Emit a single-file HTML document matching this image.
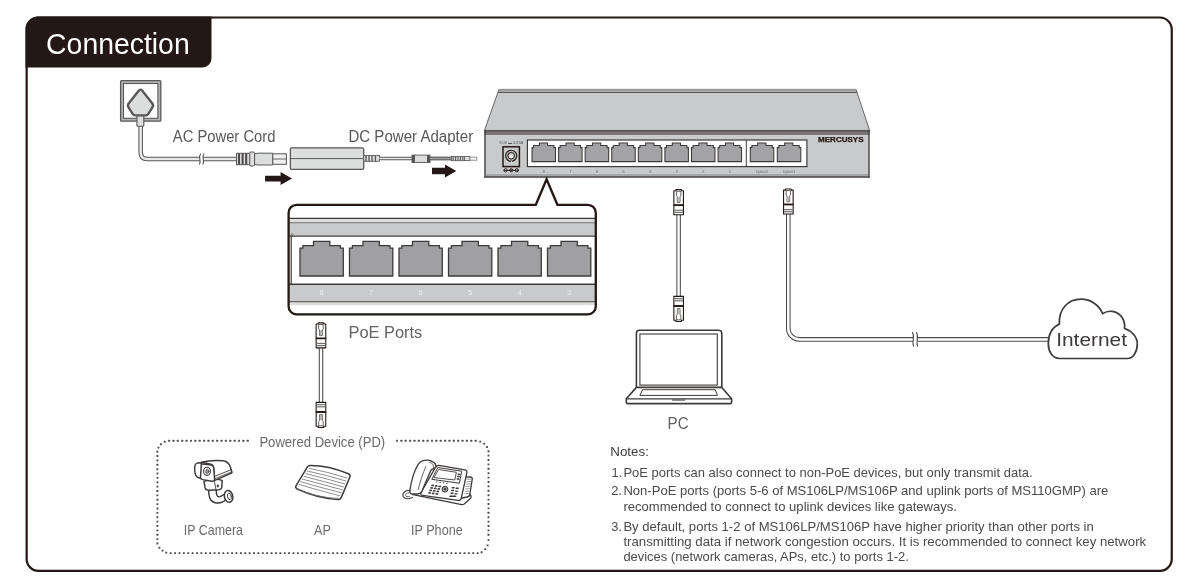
<!DOCTYPE html>
<html><head><meta charset="utf-8">
<style>
html,body{margin:0;padding:0;background:#fff;}
body{width:1200px;height:586px;overflow:hidden;position:relative;}
svg{position:absolute;left:0;top:0;will-change:transform;}
text{font-family:"Liberation Sans",sans-serif;}
</style></head>
<body>
<svg width="1200" height="586" viewBox="0 0 1200 586">


<!-- Frame -->
<rect x="26.65" y="17.5" width="1145.1" height="553.4" rx="12" ry="12" fill="none" stroke="#231815" stroke-width="2.2"/>
<path d="M25.5,30 A12.5,12.5 0 0 1 38,16.5 H211.5 V58.5 A9,9 0 0 1 202.5,67.5 H25.5 Z" fill="#231815"/>
<text x="46.1" y="53.8" font-size="29.2" fill="#fff" textLength="143.6" lengthAdjust="spacingAndGlyphs">Connection</text>

<!-- Labels -->
<text x="172.8" y="142" font-size="15.6" fill="#595757" textLength="102.6" lengthAdjust="spacingAndGlyphs">AC Power Cord</text>
<text x="348.4" y="142" font-size="15.6" fill="#595757" textLength="124.8" lengthAdjust="spacingAndGlyphs">DC Power Adapter</text>
<text x="348.5" y="337.6" font-size="16" fill="#636161" textLength="73.8" lengthAdjust="spacingAndGlyphs">PoE Ports</text>
<text x="667.6" y="428.8" font-size="16" fill="#636161" textLength="21" lengthAdjust="spacingAndGlyphs">PC</text>
<text x="259.4" y="446.9" font-size="15" fill="#6b6969" textLength="125.8" lengthAdjust="spacingAndGlyphs">Powered Device (PD)</text>
<text x="183.8" y="535" font-size="14.3" fill="#6b6969" textLength="59.2" lengthAdjust="spacingAndGlyphs">IP Camera</text>
<text x="314" y="535" font-size="14.3" fill="#6b6969" textLength="16.8" lengthAdjust="spacingAndGlyphs">AP</text>
<text x="411" y="535" font-size="14.3" fill="#6b6969" textLength="51.7" lengthAdjust="spacingAndGlyphs">IP Phone</text>

<!-- Notes -->
<g fill="#4c4948" font-size="12.8">
<text x="610.3" y="456.4" fill="#3e3a39" textLength="38.6" lengthAdjust="spacingAndGlyphs">Notes:</text>
<text x="611.6" y="476.7">1.</text>
<text x="623.4" y="476.7" textLength="409.2" lengthAdjust="spacingAndGlyphs">PoE ports can also connect to non-PoE devices, but only transmit data.</text>
<text x="611.2" y="495">2.</text>
<text x="623.4" y="495" textLength="485" lengthAdjust="spacingAndGlyphs">Non-PoE ports (ports 5-6 of MS106LP/MS106P and uplink ports of MS110GMP) are</text>
<text x="623.4" y="510.8" textLength="333.6" lengthAdjust="spacingAndGlyphs">recommended to connect to uplink devices like gateways.</text>
<text x="611.2" y="530.5">3.</text>
<text x="623.4" y="530.5" textLength="470.4" lengthAdjust="spacingAndGlyphs">By default, ports 1-2 of MS106LP/MS106P have higher priority than other ports in</text>
<text x="623.4" y="546.3" textLength="522.8" lengthAdjust="spacingAndGlyphs">transmitting data if network congestion occurs. It is recommended to connect key network</text>
<text x="623.4" y="561.3" textLength="285.4" lengthAdjust="spacingAndGlyphs">devices (network cameras, APs, etc.) to ports 1-2.</text>
</g>

<rect x="120.6" y="80.6" width="40.2" height="40.6" rx="1" fill="#b5b5b6" stroke="#595757" stroke-width="1.3"/>
<rect x="123.5" y="83.5" width="34.4" height="34.8" fill="#fff" stroke="#595757" stroke-width="1.1"/>
<path d="M140.7,124 V152.5 Q140.7,159 147.2,159 H237" fill="none" stroke="#595757" stroke-width="4.6"/><path d="M140.7,124 V152.5 Q140.7,159 147.2,159 H237" fill="none" stroke="#e8e8e8" stroke-width="2.4999999999999996"/>
<rect x="136.9" y="113" width="6.9" height="13.2" rx="0.8" fill="#dcdddd" stroke="#595757" stroke-width="1.1"/>
<path d="M138.51,90.91 Q140.5,88.4 142.49,90.91 L152.19,103.16 Q153.8,105.2 152.42,107.4 L148.2,114.13 Q147.4,115.4 145.9,115.4 L135.1,115.4 Q133.6,115.4 132.8,114.13 L128.58,107.4 Q127.2,105.2 128.81,103.16 Z" fill="#dcdddd" stroke="#595757" stroke-width="2.4" stroke-linejoin="round"/>
<rect x="199.9" y="156" width="3.4" height="6" fill="#fff"/><path d="M200.8,153.5 C197.5,157.17 201.9,160.38 199.4,164.5" fill="none" stroke="#4c4948" stroke-width="1.05"/><path d="M204.2,153.5 C200.9,157.17 205.3,160.38 202.8,164.5" fill="none" stroke="#4c4948" stroke-width="1.05"/>
<rect x="236.5" y="153.3" width="13.3" height="11.4" fill="#dcdddd" stroke="#595757" stroke-width="1"/>
<line x1="239.0" y1="153.5" x2="239.0" y2="164.5" stroke="#4c4948" stroke-width="2"/>
<line x1="242.6" y1="153.5" x2="242.6" y2="164.5" stroke="#4c4948" stroke-width="2"/>
<line x1="246.2" y1="153.5" x2="246.2" y2="164.5" stroke="#4c4948" stroke-width="2"/>
<rect x="249.7" y="152" width="4.9" height="14" rx="1.2" fill="#dcdddd" stroke="#595757" stroke-width="1"/>
<path d="M254.6,153.6 L258,153.2 H272.8 V165 H258 L254.6,164.5 Z" fill="#dcdddd" stroke="#595757" stroke-width="1"/>
<rect x="272.8" y="153.8" width="13.6" height="10.5" fill="#efefef" stroke="#595757" stroke-width="1"/>
<line x1="272.8" y1="159" x2="286.4" y2="159" stroke="#595757" stroke-width="0.9"/>
<path d="M265.1,175.8 H280.6 V172 L292,178.6 L280.6,185 V181.6 H265.1 Z" fill="#231815"/>
<rect x="290.4" y="147.8" width="73.3" height="21.6" rx="1.5" fill="#dcdddd" stroke="#595757" stroke-width="1.3"/>
<line x1="290.4" y1="158.6" x2="363.7" y2="158.6" stroke="#595757" stroke-width="1"/>
<rect x="363.7" y="155.4" width="15.7" height="5.9" fill="#dcdddd" stroke="#595757" stroke-width="0.9"/>
<line x1="366.0" y1="155.4" x2="366.0" y2="161.3" stroke="#595757" stroke-width="1.3"/>
<line x1="369.0" y1="155.4" x2="369.0" y2="161.3" stroke="#595757" stroke-width="1.3"/>
<line x1="372.0" y1="155.4" x2="372.0" y2="161.3" stroke="#595757" stroke-width="1.3"/>
<line x1="375.4" y1="155.4" x2="375.4" y2="161.3" stroke="#595757" stroke-width="1.3"/>
<path d="M379.4,158.5 H412" fill="none" stroke="#595757" stroke-width="3.6"/><path d="M379.4,158.5 H412" fill="none" stroke="#e8e8e8" stroke-width="1.5"/>
<rect x="412" y="155.1" width="18" height="7.4" fill="#dcdddd" stroke="#595757" stroke-width="0.9"/>
<rect x="412" y="155.1" width="3" height="7.4" fill="#595757"/>
<rect x="427" y="155.1" width="3" height="7.4" fill="#595757"/>
<path d="M430,158.5 H451.5" fill="none" stroke="#595757" stroke-width="3.8"/><path d="M430,158.5 H451.5" fill="none" stroke="#a09fa2" stroke-width="1.6999999999999997"/>
<rect x="451.4" y="156.5" width="13" height="4.2" fill="#dcdddd" stroke="#595757" stroke-width="0.8"/>
<line x1="453.2" y1="156.5" x2="453.2" y2="160.7" stroke="#595757" stroke-width="1.1"/>
<line x1="455.6" y1="156.5" x2="455.6" y2="160.7" stroke="#595757" stroke-width="1.1"/>
<line x1="458.0" y1="156.5" x2="458.0" y2="160.7" stroke="#595757" stroke-width="1.1"/>
<line x1="460.4" y1="156.5" x2="460.4" y2="160.7" stroke="#595757" stroke-width="1.1"/>
<line x1="462.8" y1="156.5" x2="462.8" y2="160.7" stroke="#595757" stroke-width="1.1"/>
<rect x="464.4" y="156.6" width="5.6" height="4" fill="#dcdddd" stroke="#595757" stroke-width="0.8"/>
<rect x="470" y="157.1" width="6.9" height="3.1" fill="#f4f4f4" stroke="#727171" stroke-width="0.7"/>
<path d="M432,167.8 H445 V164.5 L456.3,171 L445,177.5 V174.3 H432 Z" fill="#231815"/>
<path d="M499,89.4 H856 L869.6,130.4 H484.4 Z" fill="#c9cacb" stroke="#595757" stroke-width="0.9" stroke-linejoin="round"/>
<rect x="499" y="89.1" width="357" height="1.8" fill="#9a9a9a"/>
<line x1="498.2" y1="92.3" x2="856.8" y2="92.3" stroke="#3e3a39" stroke-width="1"/>
<rect x="484.4" y="130.1" width="385.2" height="5" fill="#7a7676"/>
<rect x="484.4" y="130.1" width="385.2" height="1.7" fill="#595757"/>
<rect x="484.4" y="135.1" width="385.2" height="41.5" fill="#c9cacb"/>
<line x1="485" y1="130.2" x2="485" y2="177.5" stroke="#3e3a39" stroke-width="1.3"/>
<line x1="869" y1="130.2" x2="869" y2="177.5" stroke="#3e3a39" stroke-width="1.3"/>
<line x1="484.4" y1="175" x2="869.6" y2="175" stroke="#727171" stroke-width="0.8"/>
<line x1="484.4" y1="177" x2="869.6" y2="177" stroke="#3e3a39" stroke-width="1.5"/>
<text x="499.2" y="144.3" font-size="3.6" fill="#595757" textLength="24" lengthAdjust="spacingAndGlyphs">9.0V ▬ 0.83A</text>
<rect x="503" y="146.8" width="16.4" height="19.8" fill="#c9cacb" stroke="#231815" stroke-width="1.5"/>
<circle cx="511.2" cy="155.8" r="5.6" fill="#b5b5b6" stroke="#231815" stroke-width="1.1"/>
<circle cx="511.2" cy="155.8" r="3.3" fill="#c9cacb" stroke="#231815" stroke-width="1"/>
<path d="M509.6,157.6 A1.7,1.7 0 1 1 512.8,157.6 Z" fill="#fff"/>
<path d="M510.9,160.9 H512.2 V164 H510.9 Z" fill="#c9cacb"/>
<g stroke="#231815" stroke-width="0.9" fill="none"><circle cx="505.6" cy="170.3" r="1.6"/><circle cx="511.2" cy="170.3" r="1.6"/><circle cx="516.8" cy="170.3" r="1.6"/><line x1="503.5" y1="170.3" x2="518.9" y2="170.3"/></g>
<circle cx="511.2" cy="170.3" r="0.8" fill="#231815"/>
<rect x="527.4" y="140" width="279.5" height="26.6" fill="#fff" stroke="#3e3a39" stroke-width="1.2"/>
<line x1="746.3" y1="140" x2="746.3" y2="166.6" stroke="#3e3a39" stroke-width="1"/>
<path d="M532,147.6 H533.6 V145.4 H539.4 V143 H547.6 V145.4 H553.9 V147.6 H555.5 V161.6 H532 Z" fill="#a3a2a4" stroke="#3e3a39" stroke-width="1.05"/>
<path d="M558.58,147.6 H560.18 V145.4 H565.98 V143 H574.18 V145.4 H580.48 V147.6 H582.08 V161.6 H558.58 Z" fill="#a3a2a4" stroke="#3e3a39" stroke-width="1.05"/>
<path d="M585.16,147.6 H586.76 V145.4 H592.56 V143 H600.76 V145.4 H607.06 V147.6 H608.66 V161.6 H585.16 Z" fill="#a3a2a4" stroke="#3e3a39" stroke-width="1.05"/>
<path d="M611.74,147.6 H613.34 V145.4 H619.14 V143 H627.34 V145.4 H633.64 V147.6 H635.24 V161.6 H611.74 Z" fill="#a3a2a4" stroke="#3e3a39" stroke-width="1.05"/>
<path d="M638.32,147.6 H639.92 V145.4 H645.72 V143 H653.92 V145.4 H660.22 V147.6 H661.82 V161.6 H638.32 Z" fill="#a3a2a4" stroke="#3e3a39" stroke-width="1.05"/>
<path d="M664.9,147.6 H666.5 V145.4 H672.3 V143 H680.5 V145.4 H686.8 V147.6 H688.4 V161.6 H664.9 Z" fill="#a3a2a4" stroke="#3e3a39" stroke-width="1.05"/>
<path d="M691.48,147.6 H693.08 V145.4 H698.88 V143 H707.08 V145.4 H713.38 V147.6 H714.98 V161.6 H691.48 Z" fill="#a3a2a4" stroke="#3e3a39" stroke-width="1.05"/>
<path d="M718.06,147.6 H719.66 V145.4 H725.46 V143 H733.66 V145.4 H739.96 V147.6 H741.56 V161.6 H718.06 Z" fill="#a3a2a4" stroke="#3e3a39" stroke-width="1.05"/>
<path d="M750.3,147.6 H751.9 V145.4 H757.7 V143 H765.9 V145.4 H772.2 V147.6 H773.8 V161.6 H750.3 Z" fill="#a3a2a4" stroke="#3e3a39" stroke-width="1.05"/>
<path d="M777.3,147.6 H778.9 V145.4 H784.7 V143 H792.9 V145.4 H799.2 V147.6 H800.8 V161.6 H777.3 Z" fill="#a3a2a4" stroke="#3e3a39" stroke-width="1.05"/>
<text x="543.8" y="173" font-size="4.4" fill="#6f6d6d" text-anchor="middle">8</text>
<text x="570.38" y="173" font-size="4.4" fill="#6f6d6d" text-anchor="middle">7</text>
<text x="596.96" y="173" font-size="4.4" fill="#6f6d6d" text-anchor="middle">6</text>
<text x="623.54" y="173" font-size="4.4" fill="#6f6d6d" text-anchor="middle">5</text>
<text x="650.12" y="173" font-size="4.4" fill="#6f6d6d" text-anchor="middle">4</text>
<text x="676.7" y="173" font-size="4.4" fill="#6f6d6d" text-anchor="middle">3</text>
<text x="703.28" y="173" font-size="4.4" fill="#6f6d6d" text-anchor="middle">2</text>
<text x="729.86" y="173" font-size="4.4" fill="#6f6d6d" text-anchor="middle">1</text>
<text x="762.1" y="173" font-size="3.8" fill="#6f6d6d" text-anchor="middle">Uplink2</text>
<text x="789.1" y="173" font-size="3.8" fill="#6f6d6d" text-anchor="middle">Uplink1</text>
<text x="818" y="142.2" font-size="6.6" font-weight="bold" fill="#231815" stroke="#231815" stroke-width="0.25" textLength="45.6" lengthAdjust="spacingAndGlyphs">MERCUSYS</text>
<clipPath id="cc"><path d="M296.6,204.8 H535.8 L546.6,179.2 L557.4,204.8 H587.8 A8,8 0 0 1 595.8,212.8 V306.4 A8,8 0 0 1 587.8,314.4 H296.6 A8,8 0 0 1 288.6,306.4 V212.8 A8,8 0 0 1 296.6,204.8 Z"/></clipPath>
<path d="M296.6,204.8 H535.8 L546.6,179.2 L557.4,204.8 H587.8 A8,8 0 0 1 595.8,212.8 V306.4 A8,8 0 0 1 587.8,314.4 H296.6 A8,8 0 0 1 288.6,306.4 V212.8 A8,8 0 0 1 296.6,204.8 Z" fill="#fff"/>
<g clip-path="url(#cc)">
<rect x="286" y="218.4" width="312" height="4.5" fill="#dcdddd"/>
<line x1="286" y1="218.4" x2="598" y2="218.4" stroke="#3e3a39" stroke-width="1.1"/>
<line x1="286" y1="223" x2="598" y2="223" stroke="#3e3a39" stroke-width="1"/>
<rect x="286" y="223.5" width="312" height="12.3" fill="#c9cacb"/>
<line x1="286" y1="236.1" x2="598" y2="236.1" stroke="#3e3a39" stroke-width="1.4"/>
<line x1="286" y1="284.3" x2="598" y2="284.3" stroke="#3e3a39" stroke-width="1.4"/>
<rect x="286" y="285" width="312" height="16.4" fill="#c9cacb"/>
<line x1="286" y1="301.9" x2="598" y2="301.9" stroke="#3e3a39" stroke-width="1.1"/>
<rect x="286" y="302.5" width="312" height="2.7" fill="#dcdddd"/>
<line x1="291.2" y1="236" x2="291.2" y2="284.5" stroke="#3e3a39" stroke-width="1.2"/>
<circle cx="292.2" cy="234.6" r="1" fill="none" stroke="#3e3a39" stroke-width="0.6"/>
</g>
<path d="M296.6,204.8 H535.8 L546.6,179.2 L557.4,204.8 H587.8 A8,8 0 0 1 595.8,212.8 V306.4 A8,8 0 0 1 587.8,314.4 H296.6 A8,8 0 0 1 288.6,306.4 V212.8 A8,8 0 0 1 296.6,204.8 Z" fill="none" stroke="#231815" stroke-width="2.3" stroke-linejoin="miter"/>
<path d="M300,276 V248.2 H302.9 V245.6 H313.5 V241.4 H329.8 V245.6 H340.4 V248.2 H343.3 V276 Z" fill="#a09fa2" stroke="#3e3a39" stroke-width="1.3"/>
<text x="321.7" y="294.9" font-size="7.6" fill="#ededed" text-anchor="middle">8</text>
<path d="M349.5,276 V248.2 H352.4 V245.6 H363 V241.4 H379.3 V245.6 H389.9 V248.2 H392.8 V276 Z" fill="#a09fa2" stroke="#3e3a39" stroke-width="1.3"/>
<text x="371.2" y="294.9" font-size="7.6" fill="#ededed" text-anchor="middle">7</text>
<path d="M399,276 V248.2 H401.9 V245.6 H412.5 V241.4 H428.8 V245.6 H439.4 V248.2 H442.3 V276 Z" fill="#a09fa2" stroke="#3e3a39" stroke-width="1.3"/>
<text x="420.7" y="294.9" font-size="7.6" fill="#ededed" text-anchor="middle">6</text>
<path d="M448.5,276 V248.2 H451.4 V245.6 H462 V241.4 H478.3 V245.6 H488.9 V248.2 H491.8 V276 Z" fill="#a09fa2" stroke="#3e3a39" stroke-width="1.3"/>
<text x="470.2" y="294.9" font-size="7.6" fill="#ededed" text-anchor="middle">5</text>
<path d="M498,276 V248.2 H500.9 V245.6 H511.5 V241.4 H527.8 V245.6 H538.4 V248.2 H541.3 V276 Z" fill="#a09fa2" stroke="#3e3a39" stroke-width="1.3"/>
<text x="519.7" y="294.9" font-size="7.6" fill="#ededed" text-anchor="middle">4</text>
<path d="M547.5,276 V248.2 H550.4 V245.6 H561 V241.4 H577.3 V245.6 H587.9 V248.2 H590.8 V276 Z" fill="#a09fa2" stroke="#3e3a39" stroke-width="1.3"/>
<text x="569.2" y="294.9" font-size="7.6" fill="#ededed" text-anchor="middle">3</text>
<line x1="321" y1="347" x2="321" y2="403" stroke="#4c4948" stroke-width="4.5"/><line x1="321" y1="347" x2="321" y2="403" stroke="#fff" stroke-width="2.4"/>
<g transform="translate(315.6,322.3)"><path d="M0.55,1.7 H2.6 V0.55 H8.1 V1.7 H10.15 V15.9 H0.55 Z" fill="#fff" stroke="#231815" stroke-width="1.1" stroke-linejoin="round"/><path d="M3.1,2.2 H7.6 V6.6 L6.7,7.4 V13.3 H4.0 V7.4 L3.1,6.6 Z" fill="#fff" stroke="#3e3a39" stroke-width="0.8"/><rect x="4.3" y="8" width="2.1" height="5" fill="#b5b5b6"/><path d="M0.55,15.9 H10.15 V25.6 H0.55 Z" fill="#fff" stroke="#231815" stroke-width="1.1"/><line x1="0.55" y1="16.3" x2="10.15" y2="16.3" stroke="#231815" stroke-width="1.3"/><rect x="1" y="20.6" width="8.7" height="1.2" fill="#727171"/><rect x="1" y="22.7" width="8.7" height="1.2" fill="#727171"/></g>
<g transform="translate(315.6,428) scale(1,-1)"><path d="M0.55,1.7 H2.6 V0.55 H8.1 V1.7 H10.15 V15.9 H0.55 Z" fill="#fff" stroke="#231815" stroke-width="1.1" stroke-linejoin="round"/><path d="M3.1,2.2 H7.6 V6.6 L6.7,7.4 V13.3 H4.0 V7.4 L3.1,6.6 Z" fill="#fff" stroke="#3e3a39" stroke-width="0.8"/><rect x="4.3" y="8" width="2.1" height="5" fill="#b5b5b6"/><path d="M0.55,15.9 H10.15 V25.6 H0.55 Z" fill="#fff" stroke="#231815" stroke-width="1.1"/><line x1="0.55" y1="16.3" x2="10.15" y2="16.3" stroke="#231815" stroke-width="1.3"/><rect x="1" y="20.6" width="8.7" height="1.2" fill="#727171"/><rect x="1" y="22.7" width="8.7" height="1.2" fill="#727171"/></g>
<line x1="678.6" y1="214" x2="678.6" y2="296.5" stroke="#4c4948" stroke-width="4.5"/><line x1="678.6" y1="214" x2="678.6" y2="296.5" stroke="#fff" stroke-width="2.4"/>
<g transform="translate(673.3,189.1)"><path d="M0.55,1.7 H2.6 V0.55 H8.1 V1.7 H10.15 V15.9 H0.55 Z" fill="#fff" stroke="#231815" stroke-width="1.1" stroke-linejoin="round"/><path d="M3.1,2.2 H7.6 V6.6 L6.7,7.4 V13.3 H4.0 V7.4 L3.1,6.6 Z" fill="#fff" stroke="#3e3a39" stroke-width="0.8"/><rect x="4.3" y="8" width="2.1" height="5" fill="#b5b5b6"/><path d="M0.55,15.9 H10.15 V25.6 H0.55 Z" fill="#fff" stroke="#231815" stroke-width="1.1"/><line x1="0.55" y1="16.3" x2="10.15" y2="16.3" stroke="#231815" stroke-width="1.3"/><rect x="1" y="20.6" width="8.7" height="1.2" fill="#727171"/><rect x="1" y="22.7" width="8.7" height="1.2" fill="#727171"/></g>
<g transform="translate(673.3,322) scale(1,-1)"><path d="M0.55,1.7 H2.6 V0.55 H8.1 V1.7 H10.15 V15.9 H0.55 Z" fill="#fff" stroke="#231815" stroke-width="1.1" stroke-linejoin="round"/><path d="M3.1,2.2 H7.6 V6.6 L6.7,7.4 V13.3 H4.0 V7.4 L3.1,6.6 Z" fill="#fff" stroke="#3e3a39" stroke-width="0.8"/><rect x="4.3" y="8" width="2.1" height="5" fill="#b5b5b6"/><path d="M0.55,15.9 H10.15 V25.6 H0.55 Z" fill="#fff" stroke="#231815" stroke-width="1.1"/><line x1="0.55" y1="16.3" x2="10.15" y2="16.3" stroke="#231815" stroke-width="1.3"/><rect x="1" y="20.6" width="8.7" height="1.2" fill="#727171"/><rect x="1" y="22.7" width="8.7" height="1.2" fill="#727171"/></g>
<path d="M788.3,213 V328.4 A11,11 0 0 0 799.3,339.4 H1049" fill="none" stroke="#4c4948" stroke-width="4.6"/><path d="M788.3,213 V328.4 A11,11 0 0 0 799.3,339.4 H1049" fill="none" stroke="#fff" stroke-width="2.4999999999999996"/>
<g transform="translate(783,188.4)"><path d="M0.55,1.7 H2.6 V0.55 H8.1 V1.7 H10.15 V15.9 H0.55 Z" fill="#fff" stroke="#231815" stroke-width="1.1" stroke-linejoin="round"/><path d="M3.1,2.2 H7.6 V6.6 L6.7,7.4 V13.3 H4.0 V7.4 L3.1,6.6 Z" fill="#fff" stroke="#3e3a39" stroke-width="0.8"/><rect x="4.3" y="8" width="2.1" height="5" fill="#b5b5b6"/><path d="M0.55,15.9 H10.15 V25.6 H0.55 Z" fill="#fff" stroke="#231815" stroke-width="1.1"/><line x1="0.55" y1="16.3" x2="10.15" y2="16.3" stroke="#231815" stroke-width="1.3"/><rect x="1" y="20.6" width="8.7" height="1.2" fill="#727171"/><rect x="1" y="22.7" width="8.7" height="1.2" fill="#727171"/></g>
<rect x="913.2" y="336.4" width="4" height="6" fill="#fff"/><path d="M912.3,332.15 C915.6,336.98 911.2,341.21 913.7,346.65" fill="none" stroke="#4c4948" stroke-width="1.05"/><path d="M916.3,332.15 C919.6,336.98 915.2,341.21 917.7,346.65" fill="none" stroke="#4c4948" stroke-width="1.05"/>
<path d="M636.4,387.2 V333.4 Q636.4,330.2 639.6,330.2 H718.6 Q721.8,330.2 721.8,333.4 V387.2" fill="#fff" stroke="#3e3a39" stroke-width="1.6"/>
<rect x="639.9" y="334" width="77.4" height="51.1" fill="#fff" stroke="#3e3a39" stroke-width="1.1"/>
<path d="M636.4,387.4 L626.3,398.8 V402.2 Q626.3,403.6 627.7,403.6 H730.2 Q731.6,403.6 731.6,402.2 V398.8 L721.8,387.4 Z" fill="#fff" stroke="#3e3a39" stroke-width="1.6" stroke-linejoin="round"/>
<line x1="626.3" y1="398.9" x2="731.6" y2="398.9" stroke="#3e3a39" stroke-width="1.2"/>
<path d="M642.6,389.7 H715.2 L717.4,395.4 H639.9 Z" fill="#fff" stroke="#3e3a39" stroke-width="1"/>
<rect x="672.2" y="399" width="12.9" height="1.8" fill="#727171"/>
<path d="M1059.5,358.5 C1052,358.5 1048.2,351 1048.3,343.5 C1048.4,334 1053,327 1059.4,324 C1058.5,309 1068,299.2 1081,299.2 C1091,299.2 1099,305 1102.7,313.6 C1105.6,311.6 1108.8,311 1112,311.3 C1119.5,312 1125.4,319 1124.6,328.4 C1132,331 1137.3,337 1137.3,344 C1137.3,352 1133,358.5 1127.5,358.5 Z" fill="#fff" stroke="#3e3a39" stroke-width="1.7"/>
<text x="1056.2" y="346" font-size="17.6" fill="#3e3a39" textLength="70.8" lengthAdjust="spacingAndGlyphs">Internet</text>
<g fill="#4c4948"><rect x="168.15" y="439.85" width="1.9" height="1.9" rx="0.35"/><rect x="172.52" y="439.85" width="1.9" height="1.9" rx="0.35"/><rect x="176.89" y="439.85" width="1.9" height="1.9" rx="0.35"/><rect x="181.26" y="439.85" width="1.9" height="1.9" rx="0.35"/><rect x="185.63" y="439.85" width="1.9" height="1.9" rx="0.35"/><rect x="190" y="439.85" width="1.9" height="1.9" rx="0.35"/><rect x="194.37" y="439.85" width="1.9" height="1.9" rx="0.35"/><rect x="198.74" y="439.85" width="1.9" height="1.9" rx="0.35"/><rect x="203.11" y="439.85" width="1.9" height="1.9" rx="0.35"/><rect x="207.48" y="439.85" width="1.9" height="1.9" rx="0.35"/><rect x="211.85" y="439.85" width="1.9" height="1.9" rx="0.35"/><rect x="216.22" y="439.85" width="1.9" height="1.9" rx="0.35"/><rect x="220.59" y="439.85" width="1.9" height="1.9" rx="0.35"/><rect x="224.96" y="439.85" width="1.9" height="1.9" rx="0.35"/><rect x="229.33" y="439.85" width="1.9" height="1.9" rx="0.35"/><rect x="233.7" y="439.85" width="1.9" height="1.9" rx="0.35"/><rect x="238.07" y="439.85" width="1.9" height="1.9" rx="0.35"/><rect x="242.44" y="439.85" width="1.9" height="1.9" rx="0.35"/><rect x="246.81" y="439.85" width="1.9" height="1.9" rx="0.35"/><rect x="396.05" y="439.85" width="1.9" height="1.9" rx="0.35"/><rect x="400.42" y="439.85" width="1.9" height="1.9" rx="0.35"/><rect x="404.79" y="439.85" width="1.9" height="1.9" rx="0.35"/><rect x="409.16" y="439.85" width="1.9" height="1.9" rx="0.35"/><rect x="413.53" y="439.85" width="1.9" height="1.9" rx="0.35"/><rect x="417.9" y="439.85" width="1.9" height="1.9" rx="0.35"/><rect x="422.27" y="439.85" width="1.9" height="1.9" rx="0.35"/><rect x="426.64" y="439.85" width="1.9" height="1.9" rx="0.35"/><rect x="431.01" y="439.85" width="1.9" height="1.9" rx="0.35"/><rect x="435.38" y="439.85" width="1.9" height="1.9" rx="0.35"/><rect x="439.75" y="439.85" width="1.9" height="1.9" rx="0.35"/><rect x="444.12" y="439.85" width="1.9" height="1.9" rx="0.35"/><rect x="448.49" y="439.85" width="1.9" height="1.9" rx="0.35"/><rect x="452.86" y="439.85" width="1.9" height="1.9" rx="0.35"/><rect x="457.23" y="439.85" width="1.9" height="1.9" rx="0.35"/><rect x="461.6" y="439.85" width="1.9" height="1.9" rx="0.35"/><rect x="465.97" y="439.85" width="1.9" height="1.9" rx="0.35"/><rect x="470.34" y="439.85" width="1.9" height="1.9" rx="0.35"/><rect x="474.71" y="439.85" width="1.9" height="1.9" rx="0.35"/><rect x="163.75" y="440.75" width="1.9" height="1.9" rx="0.35"/><rect x="159.95" y="443.25" width="1.9" height="1.9" rx="0.35"/><rect x="157.55" y="446.65" width="1.9" height="1.9" rx="0.35"/><rect x="156.45" y="450.75" width="1.9" height="1.9" rx="0.35"/><rect x="156.45" y="455.12" width="1.9" height="1.9" rx="0.35"/><rect x="156.45" y="459.49" width="1.9" height="1.9" rx="0.35"/><rect x="156.45" y="463.86" width="1.9" height="1.9" rx="0.35"/><rect x="156.45" y="468.23" width="1.9" height="1.9" rx="0.35"/><rect x="156.45" y="472.6" width="1.9" height="1.9" rx="0.35"/><rect x="156.45" y="476.97" width="1.9" height="1.9" rx="0.35"/><rect x="156.45" y="481.34" width="1.9" height="1.9" rx="0.35"/><rect x="156.45" y="485.71" width="1.9" height="1.9" rx="0.35"/><rect x="156.45" y="490.08" width="1.9" height="1.9" rx="0.35"/><rect x="156.45" y="494.45" width="1.9" height="1.9" rx="0.35"/><rect x="156.45" y="498.82" width="1.9" height="1.9" rx="0.35"/><rect x="156.45" y="503.19" width="1.9" height="1.9" rx="0.35"/><rect x="156.45" y="507.56" width="1.9" height="1.9" rx="0.35"/><rect x="156.45" y="511.93" width="1.9" height="1.9" rx="0.35"/><rect x="156.45" y="516.3" width="1.9" height="1.9" rx="0.35"/><rect x="156.45" y="520.67" width="1.9" height="1.9" rx="0.35"/><rect x="156.45" y="525.04" width="1.9" height="1.9" rx="0.35"/><rect x="156.45" y="529.41" width="1.9" height="1.9" rx="0.35"/><rect x="156.45" y="533.78" width="1.9" height="1.9" rx="0.35"/><rect x="156.45" y="538.15" width="1.9" height="1.9" rx="0.35"/><rect x="156.45" y="542.52" width="1.9" height="1.9" rx="0.35"/><rect x="158.45" y="546.75" width="1.9" height="1.9" rx="0.35"/><rect x="161.55" y="549.65" width="1.9" height="1.9" rx="0.35"/><rect x="165.35" y="551.65" width="1.9" height="1.9" rx="0.35"/><rect x="169.75" y="552.15" width="1.9" height="1.9" rx="0.35"/><rect x="174.13" y="552.15" width="1.9" height="1.9" rx="0.35"/><rect x="178.52" y="552.15" width="1.9" height="1.9" rx="0.35"/><rect x="182.91" y="552.15" width="1.9" height="1.9" rx="0.35"/><rect x="187.29" y="552.15" width="1.9" height="1.9" rx="0.35"/><rect x="191.68" y="552.15" width="1.9" height="1.9" rx="0.35"/><rect x="196.06" y="552.15" width="1.9" height="1.9" rx="0.35"/><rect x="200.44" y="552.15" width="1.9" height="1.9" rx="0.35"/><rect x="204.83" y="552.15" width="1.9" height="1.9" rx="0.35"/><rect x="209.22" y="552.15" width="1.9" height="1.9" rx="0.35"/><rect x="213.6" y="552.15" width="1.9" height="1.9" rx="0.35"/><rect x="217.99" y="552.15" width="1.9" height="1.9" rx="0.35"/><rect x="222.37" y="552.15" width="1.9" height="1.9" rx="0.35"/><rect x="226.75" y="552.15" width="1.9" height="1.9" rx="0.35"/><rect x="231.14" y="552.15" width="1.9" height="1.9" rx="0.35"/><rect x="235.52" y="552.15" width="1.9" height="1.9" rx="0.35"/><rect x="239.91" y="552.15" width="1.9" height="1.9" rx="0.35"/><rect x="244.3" y="552.15" width="1.9" height="1.9" rx="0.35"/><rect x="248.68" y="552.15" width="1.9" height="1.9" rx="0.35"/><rect x="253.06" y="552.15" width="1.9" height="1.9" rx="0.35"/><rect x="257.45" y="552.15" width="1.9" height="1.9" rx="0.35"/><rect x="261.83" y="552.15" width="1.9" height="1.9" rx="0.35"/><rect x="266.22" y="552.15" width="1.9" height="1.9" rx="0.35"/><rect x="270.6" y="552.15" width="1.9" height="1.9" rx="0.35"/><rect x="274.99" y="552.15" width="1.9" height="1.9" rx="0.35"/><rect x="279.38" y="552.15" width="1.9" height="1.9" rx="0.35"/><rect x="283.76" y="552.15" width="1.9" height="1.9" rx="0.35"/><rect x="288.14" y="552.15" width="1.9" height="1.9" rx="0.35"/><rect x="292.53" y="552.15" width="1.9" height="1.9" rx="0.35"/><rect x="296.92" y="552.15" width="1.9" height="1.9" rx="0.35"/><rect x="301.3" y="552.15" width="1.9" height="1.9" rx="0.35"/><rect x="305.69" y="552.15" width="1.9" height="1.9" rx="0.35"/><rect x="310.07" y="552.15" width="1.9" height="1.9" rx="0.35"/><rect x="314.45" y="552.15" width="1.9" height="1.9" rx="0.35"/><rect x="318.84" y="552.15" width="1.9" height="1.9" rx="0.35"/><rect x="323.22" y="552.15" width="1.9" height="1.9" rx="0.35"/><rect x="327.61" y="552.15" width="1.9" height="1.9" rx="0.35"/><rect x="332" y="552.15" width="1.9" height="1.9" rx="0.35"/><rect x="336.38" y="552.15" width="1.9" height="1.9" rx="0.35"/><rect x="340.76" y="552.15" width="1.9" height="1.9" rx="0.35"/><rect x="345.15" y="552.15" width="1.9" height="1.9" rx="0.35"/><rect x="349.54" y="552.15" width="1.9" height="1.9" rx="0.35"/><rect x="353.92" y="552.15" width="1.9" height="1.9" rx="0.35"/><rect x="358.31" y="552.15" width="1.9" height="1.9" rx="0.35"/><rect x="362.69" y="552.15" width="1.9" height="1.9" rx="0.35"/><rect x="367.07" y="552.15" width="1.9" height="1.9" rx="0.35"/><rect x="371.46" y="552.15" width="1.9" height="1.9" rx="0.35"/><rect x="375.84" y="552.15" width="1.9" height="1.9" rx="0.35"/><rect x="380.23" y="552.15" width="1.9" height="1.9" rx="0.35"/><rect x="384.61" y="552.15" width="1.9" height="1.9" rx="0.35"/><rect x="389" y="552.15" width="1.9" height="1.9" rx="0.35"/><rect x="393.38" y="552.15" width="1.9" height="1.9" rx="0.35"/><rect x="397.77" y="552.15" width="1.9" height="1.9" rx="0.35"/><rect x="402.16" y="552.15" width="1.9" height="1.9" rx="0.35"/><rect x="406.54" y="552.15" width="1.9" height="1.9" rx="0.35"/><rect x="410.93" y="552.15" width="1.9" height="1.9" rx="0.35"/><rect x="415.31" y="552.15" width="1.9" height="1.9" rx="0.35"/><rect x="419.69" y="552.15" width="1.9" height="1.9" rx="0.35"/><rect x="424.08" y="552.15" width="1.9" height="1.9" rx="0.35"/><rect x="428.46" y="552.15" width="1.9" height="1.9" rx="0.35"/><rect x="432.85" y="552.15" width="1.9" height="1.9" rx="0.35"/><rect x="437.24" y="552.15" width="1.9" height="1.9" rx="0.35"/><rect x="441.62" y="552.15" width="1.9" height="1.9" rx="0.35"/><rect x="446" y="552.15" width="1.9" height="1.9" rx="0.35"/><rect x="450.39" y="552.15" width="1.9" height="1.9" rx="0.35"/><rect x="454.77" y="552.15" width="1.9" height="1.9" rx="0.35"/><rect x="459.16" y="552.15" width="1.9" height="1.9" rx="0.35"/><rect x="463.54" y="552.15" width="1.9" height="1.9" rx="0.35"/><rect x="467.93" y="552.15" width="1.9" height="1.9" rx="0.35"/><rect x="472.31" y="552.15" width="1.9" height="1.9" rx="0.35"/><rect x="476.7" y="552.15" width="1.9" height="1.9" rx="0.35"/><rect x="480.65" y="551.25" width="1.9" height="1.9" rx="0.35"/><rect x="484.35" y="548.25" width="1.9" height="1.9" rx="0.35"/><rect x="486.65" y="544.45" width="1.9" height="1.9" rx="0.35"/><rect x="487.55" y="450.25" width="1.9" height="1.9" rx="0.35"/><rect x="487.55" y="454.65" width="1.9" height="1.9" rx="0.35"/><rect x="487.55" y="459.05" width="1.9" height="1.9" rx="0.35"/><rect x="487.55" y="463.45" width="1.9" height="1.9" rx="0.35"/><rect x="487.55" y="467.85" width="1.9" height="1.9" rx="0.35"/><rect x="487.55" y="472.25" width="1.9" height="1.9" rx="0.35"/><rect x="487.55" y="476.65" width="1.9" height="1.9" rx="0.35"/><rect x="487.55" y="481.05" width="1.9" height="1.9" rx="0.35"/><rect x="487.55" y="485.45" width="1.9" height="1.9" rx="0.35"/><rect x="487.55" y="489.85" width="1.9" height="1.9" rx="0.35"/><rect x="487.55" y="494.25" width="1.9" height="1.9" rx="0.35"/><rect x="487.55" y="498.65" width="1.9" height="1.9" rx="0.35"/><rect x="487.55" y="503.05" width="1.9" height="1.9" rx="0.35"/><rect x="487.55" y="507.45" width="1.9" height="1.9" rx="0.35"/><rect x="487.55" y="511.85" width="1.9" height="1.9" rx="0.35"/><rect x="487.55" y="516.25" width="1.9" height="1.9" rx="0.35"/><rect x="487.55" y="520.65" width="1.9" height="1.9" rx="0.35"/><rect x="487.55" y="525.05" width="1.9" height="1.9" rx="0.35"/><rect x="487.55" y="529.45" width="1.9" height="1.9" rx="0.35"/><rect x="487.55" y="533.85" width="1.9" height="1.9" rx="0.35"/><rect x="487.55" y="539.15" width="1.9" height="1.9" rx="0.35"/><rect x="479.25" y="440.65" width="1.9" height="1.9" rx="0.35"/><rect x="483.25" y="442.65" width="1.9" height="1.9" rx="0.35"/><rect x="486.05" y="446.05" width="1.9" height="1.9" rx="0.35"/></g>
<g fill="#fff" stroke="#3e3a39" stroke-width="1.45" stroke-linejoin="round" stroke-linecap="round">
<path d="M208.6,489 C208.6,493 209,497.5 211,500.3 C213.2,503.2 218.4,503.8 222.6,502 L226.4,499.6 L224.6,494 L221.2,496.2 C219.4,497.4 217.6,497 216.9,495.2 C216.4,493.6 216.2,491.4 216.2,489 Z"/>
<ellipse cx="228.6" cy="496.4" rx="4.2" ry="6" transform="rotate(-12 228.6 496.4)"/>
<ellipse cx="229.4" cy="496.4" rx="1.9" ry="3.4" fill="#fff" stroke-width="0.9" transform="rotate(-12 229.4 496.4)"/>
<path d="M204,481.4 L205.2,488 C205.6,489.6 207,490.2 209,490.2 L219,489.8 C220.6,489.6 221.6,488.6 221.8,487 L222.2,480.4 L214.6,478.6 Z"/>
<path d="M214.4,481.2 L216,489.8" stroke-width="0.9"/>
<ellipse cx="217.8" cy="486" rx="1.1" ry="1.4" fill="#3e3a39" stroke="none"/>
<path d="M201.2,462.2 C207,460.8 217,460.2 223.2,460.8 C227.4,461.2 230,465 231,469 L232,472.8 L214.4,480.6 L213.6,467.4 C213.2,465.2 211.4,464 209,463.8 Z"/>
<path d="M214,476.6 L231.4,469.6" stroke-width="0.9"/>
<path d="M214.2,479 L231.8,471.8" stroke-width="0.8"/>
<path d="M199.8,465.4 C200,464.4 201,463.9 202.4,464 L210,464.8 C212.2,465 213.6,466.6 213.8,468.6 L214.6,479 C214.6,480.6 213.4,481.4 211.8,481.2 L202.6,479.6 C201,479.3 200.2,478.2 200.1,476.8 Z"/>
<path d="M196.8,463.4 C198.4,462.4 200.2,462.6 201.4,463.6 L200.4,478.4 C198.8,478.2 196.8,477.2 195.8,475.4 C194.6,473 194.4,467.6 195,465.4 C195.3,464.4 195.9,463.8 196.8,463.4 Z"/>
<ellipse cx="207" cy="471.3" rx="3.4" ry="4.1" stroke-width="1.1"/>
<ellipse cx="207.3" cy="471.4" rx="1.6" ry="2.1" fill="#a09fa2" stroke-width="0.7"/>
</g>
<g stroke-linejoin="round">
<path d="M309.8,465.5 C322,465.4 337,469 348.4,473.8 C350,474.5 350.4,475.8 349.8,477.2 L341.2,497.6 C340.6,499 339.2,499.6 337.6,499.4 C323,498.6 308.6,494.2 297.2,489 C295.6,488.2 295.3,486.9 296.1,485.6 L307.4,466.8 C308,465.9 308.8,465.5 309.8,465.5 Z" fill="#fff" stroke="#3e3a39" stroke-width="1.5"/>
<path d="M297.6,489.4 C309,494.4 323,497.6 338.2,498.4" fill="none" stroke="#727171" stroke-width="0.8"/>
<g fill="none" stroke="#8a8888" stroke-width="0.95"><path d="M308.64,468.28 Q328.03,471.94 347.43,478.15"/><path d="M306.98,470.95 Q326.61,475.07 346.25,481.1"/><path d="M305.31,473.62 Q325.19,478.21 345.07,484.05"/><path d="M303.65,476.3 Q323.77,481.35 343.9,487"/><path d="M301.99,478.98 Q322.36,484.49 342.73,489.95"/><path d="M300.32,481.65 Q320.94,487.62 341.55,492.9"/><path d="M298.66,484.32 Q319.52,490.76 340.38,495.85"/></g></g>
<g fill="#fff" stroke="#3e3a39" stroke-width="1.3" stroke-linejoin="round" stroke-linecap="round">
<path d="M413,494.6 L461.6,504.6 C462.6,504.8 463.4,504.6 464.2,504 L470.4,498.6 C471.2,497.8 471.4,496.6 470.8,495.6 L469.6,493.6 L418,487 Z"/>
<path d="M464.4,477.2 L470.4,476.9 C471.8,476.9 472.5,478 472.2,479.4 L469.7,495 C469.4,496.4 468.4,497 467,497 L460.6,498.5 Z"/>
<path d="M438.8,465.4 L465,469.8 C466.5,470.1 467.2,471.2 466.9,472.6 L461.2,498.4 C460.9,499.8 459.8,500.6 458.3,500.4 L422.5,495.4 C421,495.2 420.4,494 420.9,492.6 L435.6,467.2 C436.3,466 437.4,465.2 438.8,465.4 Z"/>
<path d="M438.2,467.6 L461.8,471.2 L459.4,483.2 L432.2,479.4 Z" stroke-width="1"/>
<path d="M439,469.6 L456.4,472.3 L454.8,480 L434.4,477.6 Z" stroke-width="0.9"/>
<path d="M423,460.6 C427.5,459.6 432.5,460.6 435.3,464 C436.3,465.4 435.8,467.4 434.4,468.4 L431.2,469.8 C427.6,477.6 424.6,484.8 422,491 C421.1,492.8 419.3,493.9 417.2,494 L412.6,494 C410.6,494 409.5,492.6 409.8,490.6 C411.2,481.6 414.2,470.8 418,464.6 C419.3,462.4 420.8,461.1 423,460.6 Z"/>
<path d="M429.6,462.2 C432.4,463 434.2,465.4 433.4,467.8" stroke-width="0.9"/>
<path d="M425.8,466.6 C423,473 420.2,481 418.2,489.6" fill="none" stroke-width="0.8"/>
<path d="M410.4,490.2 C406.2,490 402.8,492.4 402.8,495.2 C402.8,497.8 405.8,499.2 409.4,498.6 L412.6,497.6" fill="none" stroke-width="1.1"/>
<path d="M408.8,492.8 C406.6,493 405.4,494.2 405.6,495.4 C405.8,496.6 407.4,497 409.4,496.6" fill="none" stroke-width="0.8"/>
</g>
<g fill="#3e3a39">
<ellipse cx="432.6" cy="485.4" rx="1.5" ry="0.9"/><ellipse cx="436.2" cy="485.9" rx="1.5" ry="0.9"/><ellipse cx="439.8" cy="486.4" rx="1.5" ry="0.9"/>
<ellipse cx="431.6" cy="487.9" rx="1.5" ry="0.9"/><ellipse cx="435.2" cy="488.4" rx="1.5" ry="0.9"/><ellipse cx="438.8" cy="488.9" rx="1.5" ry="0.9"/>
<ellipse cx="430.6" cy="490.4" rx="1.5" ry="0.9"/><ellipse cx="434.2" cy="490.9" rx="1.5" ry="0.9"/><ellipse cx="437.8" cy="491.4" rx="1.5" ry="0.9"/>
<ellipse cx="429.6" cy="492.9" rx="1.5" ry="0.9"/><ellipse cx="433.2" cy="493.4" rx="1.5" ry="0.9"/><ellipse cx="436.8" cy="493.9" rx="1.5" ry="0.9"/>
<rect x="451.6" y="487" width="3.2" height="1.4" rx="0.6"/><rect x="455.6" y="487.6" width="3.2" height="1.4" rx="0.6"/>
<rect x="451" y="489.8" width="3.2" height="1.4" rx="0.6"/><rect x="455" y="490.4" width="3.2" height="1.4" rx="0.6"/>
<rect x="450.4" y="492.6" width="3.2" height="1.4" rx="0.6"/><rect x="454.4" y="493.2" width="3.2" height="1.4" rx="0.6"/>
<rect x="449.2" y="495.4" width="7.2" height="1.7" rx="0.8"/>
<rect x="457.6" y="473.4" width="2.8" height="1.5" rx="0.5"/><rect x="457.1" y="475.8" width="2.8" height="1.5" rx="0.5"/><rect x="456.6" y="478.2" width="2.8" height="1.5" rx="0.5"/>
<rect x="436" y="481.6" width="1.4" height="0.9"/><rect x="439.4" y="482" width="1.4" height="0.9"/><rect x="442.8" y="482.4" width="1.4" height="0.9"/><rect x="446.2" y="482.8" width="1.4" height="0.9"/>
</g>
<circle cx="445" cy="489.2" r="2.9" fill="#a09fa2" stroke="#3e3a39" stroke-width="1"/>
<circle cx="445" cy="489.2" r="1.1" fill="#3e3a39"/>
<g fill="none" stroke="#727171" stroke-width="0.7">
<path d="M466.8,479.4 L471.4,479"/><path d="M466.4,481.8 L471,481.4"/><path d="M466,484.2 L470.6,483.8"/><path d="M465.6,486.6 L470.2,486.2"/><path d="M465.2,489 L469.8,488.6"/><path d="M464.8,491.4 L469.4,491"/><path d="M464.4,493.8 L469,493.4"/>
</g>

</svg>
</body></html>
